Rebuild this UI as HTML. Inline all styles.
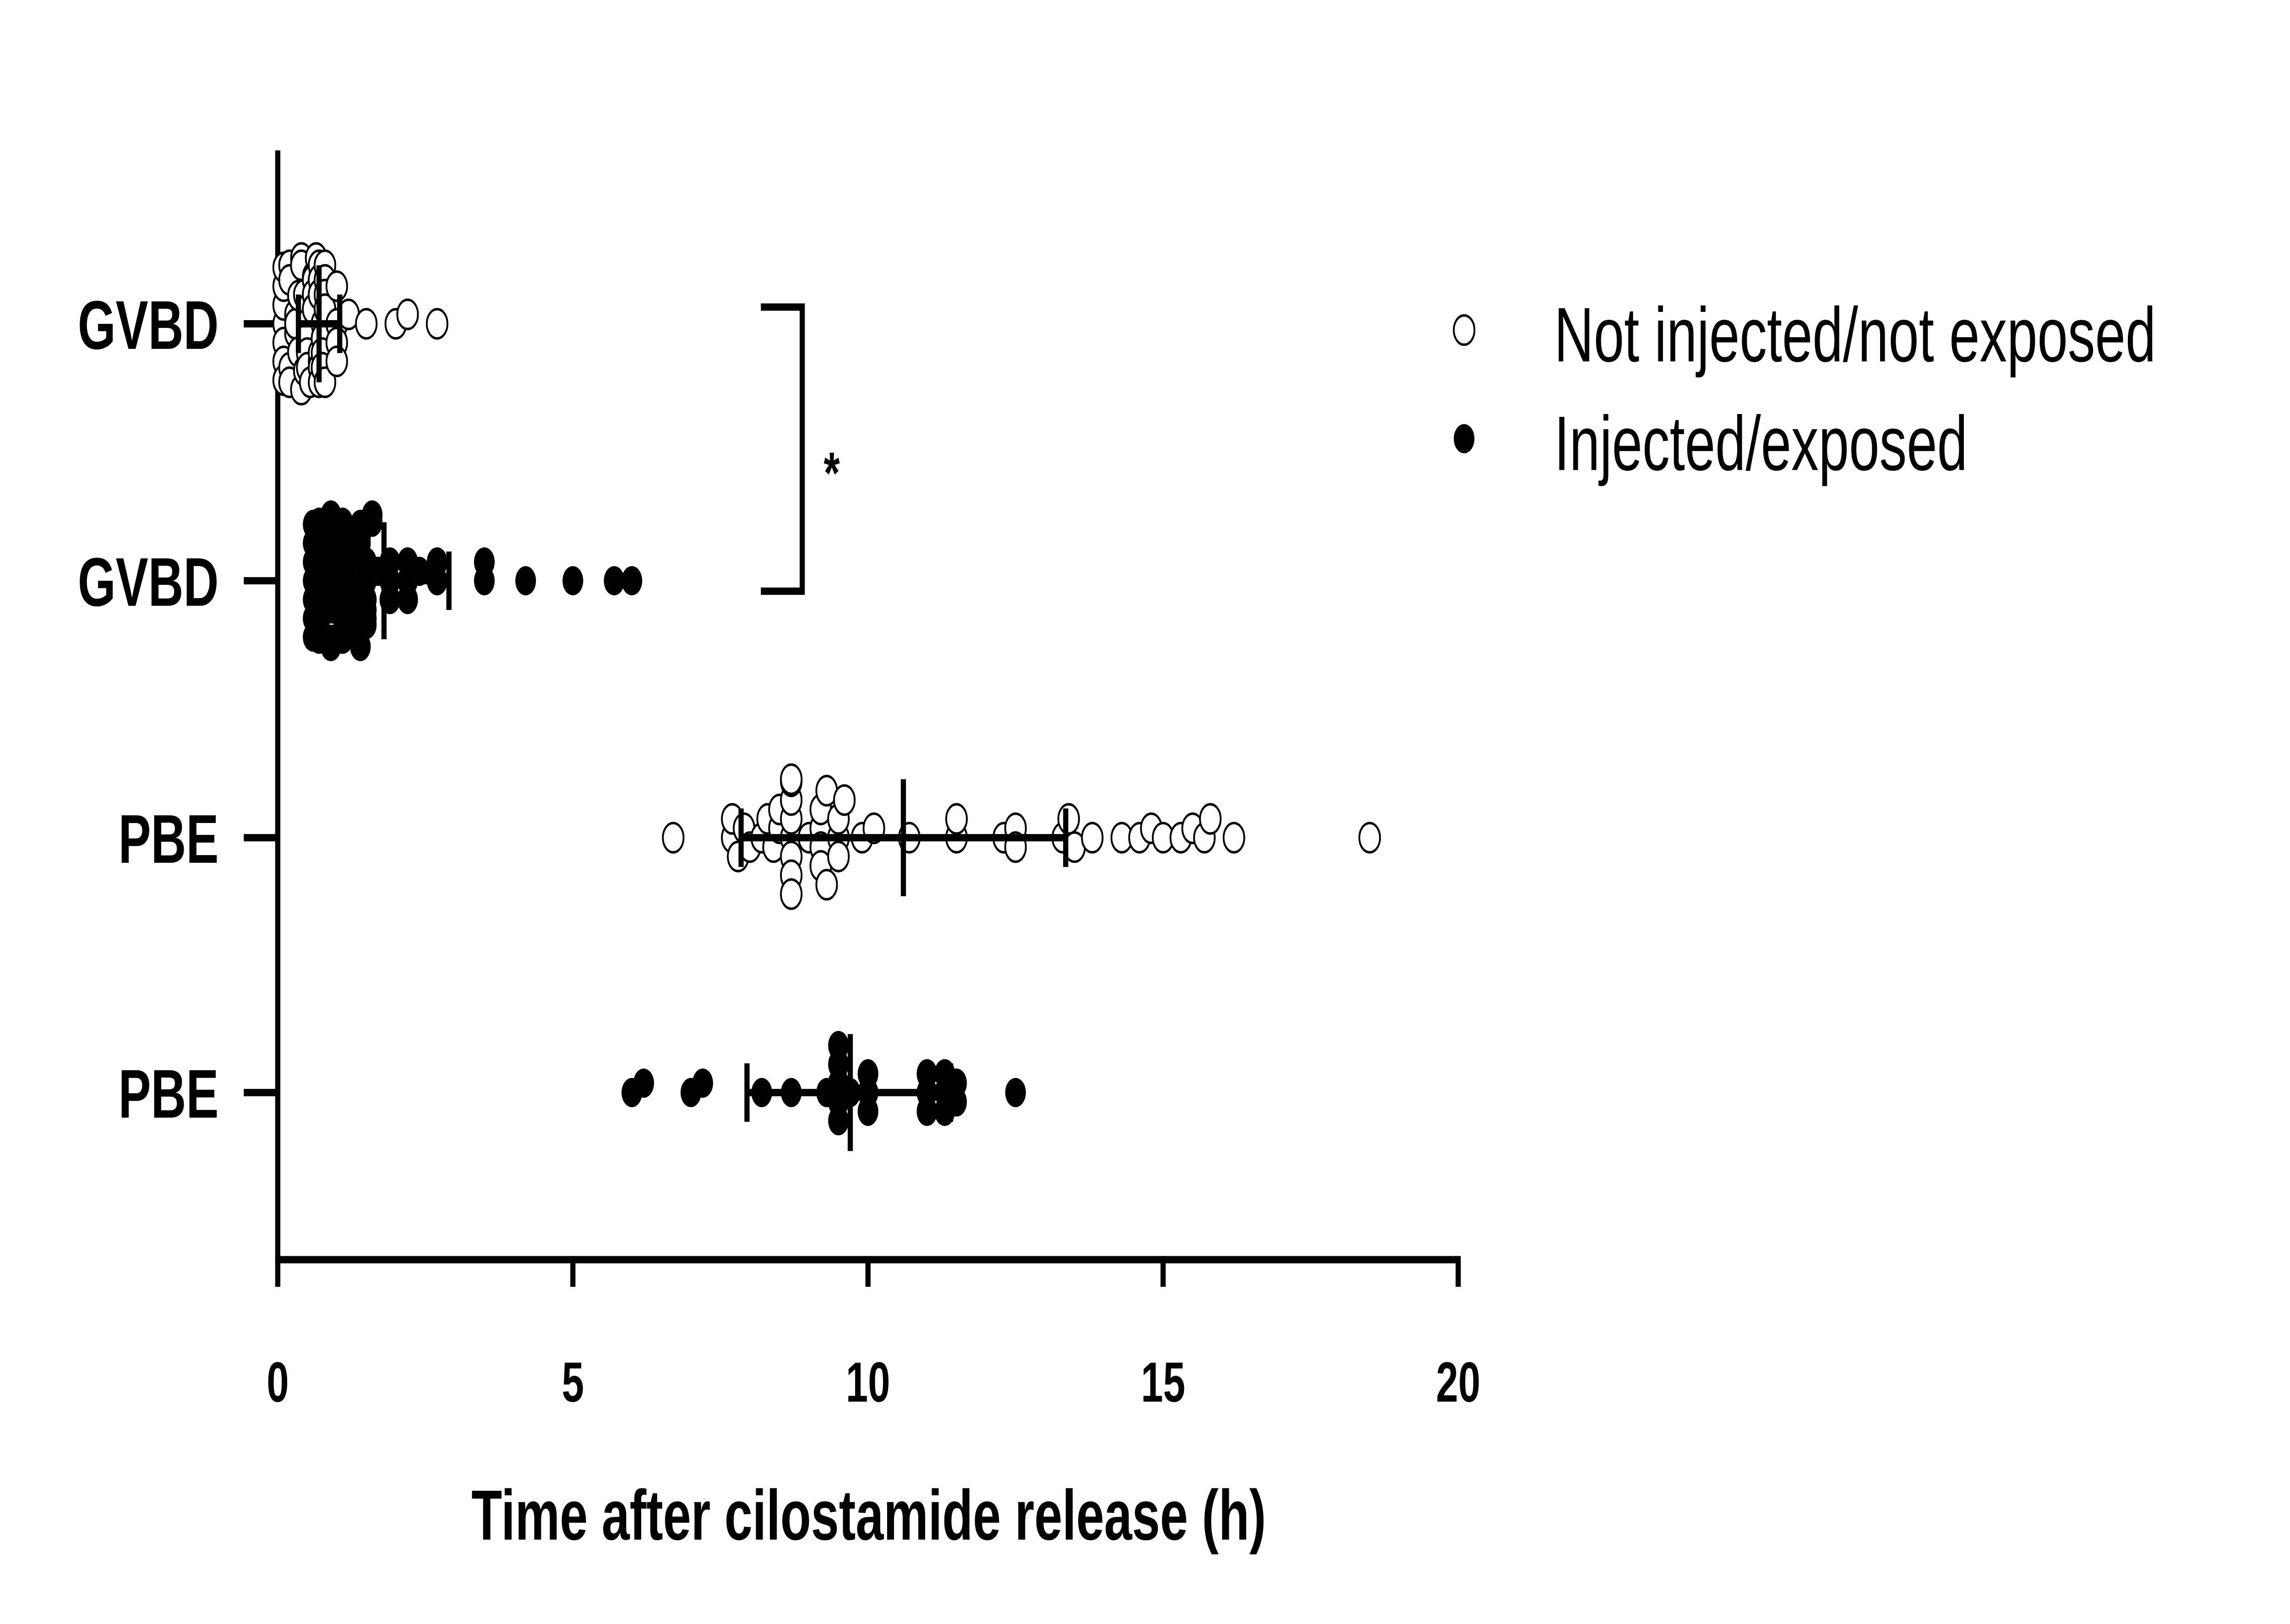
<!DOCTYPE html>
<html><head><meta charset="utf-8"><style>html,body{margin:0;padding:0;background:#fff;overflow:hidden;width:100%;height:100%;}svg{display:block;position:absolute;left:0;top:0;width:100vw;height:100vh;}</style></head>
<body>
<svg id="chart" viewBox="0 0 1550 777.4" preserveAspectRatio="none" xmlns="http://www.w3.org/2000/svg" font-family="Liberation Sans, Arial, sans-serif">
<g id="axes"></g>
<g id="marks"></g>
<g>
<path d="M515 147 H543 V283 H515" fill="none" stroke="#000" stroke-width="3.5"/>
<text x="563" y="236" font-size="28" font-weight="bold" text-anchor="middle">*</text>
</g>
<g>
<circle cx="991" cy="158" r="7" fill="#fff" stroke="#000" stroke-width="1.2"/>
<text x="1052" y="173" font-size="37">Not injected/not exposed</text>
<circle cx="991" cy="210" r="7" fill="#000"/>
<text x="1052" y="225" font-size="37">Injected/exposed</text>
</g>
<text x="588" y="737" font-size="34" font-weight="bold" text-anchor="middle">Time after cilostamide release (h)</text>
</svg>
<script>
const categories = ["GVBD", "GVBD", "PBE", "PBE"];
const groupFilled = [false, true, false, true];
const xTicks = [0, 5, 10, 15, 20];
const gvbdOpen = [0.1,0.1,0.1,0.1,0.1,0.1,0.1,0.2,0.2,0.2,0.2,0.3,0.3,0.3,0.35,0.35,0.4,0.4,0.4,0.45,0.45,0.5,0.5,0.5,0.5,0.5,0.55,0.6,0.6,0.6,0.6,0.65,0.7,0.7,0.7,0.7,0.7,0.7,0.7,0.75,0.75,0.75,0.75,0.75,0.8,0.8,0.8,0.8,0.8,1.0,1.0,1.0,1.0,1.2,1.5,2.0,2.2,2.7];
const gvbdFilled = [0.6,0.6,0.6,0.6,0.6,0.6,0.6,0.7,0.7,0.7,0.8,0.8,0.8,0.9,0.9,0.9,0.9,0.9,0.9,1.0,1.0,1.0,1.0,1.1,1.1,1.1,1.1,1.1,1.2,1.2,1.2,1.3,1.3,1.3,1.4,1.4,1.4,1.4,1.5,1.5,1.5,1.5,1.5,1.5,1.6,1.6,1.7,1.9,1.9,1.9,2.2,2.2,2.2,2.4,2.7,2.7,3.5,3.5,4.2,5.0,5.7,6.0];
const pbeOpen = [6.7,7.7,7.7,7.8,7.9,8.0,8.2,8.3,8.4,8.5,8.5,8.7,8.7,8.7,8.7,8.7,8.7,8.7,8.7,9.0,9.2,9.2,9.2,9.2,9.3,9.3,9.5,9.5,9.5,9.6,9.9,10.1,10.7,11.5,11.5,12.3,12.5,12.5,13.3,13.4,13.5,13.8,14.3,14.6,14.8,15.0,15.3,15.5,15.7,15.8,16.2,18.5];
const pbeFilled = [6.0,6.2,7.0,7.2,8.2,8.7,9.3,9.5,9.5,9.5,9.5,9.5,9.7,10.0,10.0,10.0,11.0,11.0,11.0,11.3,11.3,11.3,11.5,11.5,12.5];
const summaryMean = [0.7, 1.8, 10.6, 9.7];
const summaryLow = [0.35, 0.7, 7.85, 7.95];
const summaryHigh = [1.05, 2.9, 13.35, 11.4];
const groups = [gvbdOpen, gvbdFilled, pbeOpen, pbeFilled];

const NS = "http://www.w3.org/2000/svg";
const X0 = 188, X1 = 987, YTOP = 72, YBOT = 603;
const rowY = [155, 278, 401, 523];
function xScale(v){ return X0 + (v - xTicks[0]) / (xTicks[xTicks.length-1] - xTicks[0]) * (X1 - X0); }
function yScale(i){ return rowY[i]; }
function mk(tag, attrs, parent){ const e = document.createElementNS(NS, tag); for (const k in attrs) e.setAttribute(k, attrs[k]); parent.appendChild(e); return e; }
const axes = document.getElementById('axes');
const marks = document.getElementById('marks');

let yAxis = mk('line', {x1:X0, y1:YTOP, x2:X0, y2:YBOT+1.7, stroke:'#000','stroke-width':3.5}, axes);


let xAxis = mk('line', {x1:X0-1.7, y1:YBOT, x2:X1+1.7, y2:YBOT, stroke:'#000','stroke-width':3.5}, axes);


xTicks.forEach(t => {
  const tk = mk('line', {x1:xScale(t), y1:YBOT, x2:xScale(t), y2:YBOT+13, stroke:'#000','stroke-width':3.5}, axes);
  
  
  const tl = mk('text', {x:xScale(t), y:YBOT+68, 'font-size':27, 'font-weight':'bold', 'text-anchor':'middle'}, axes);
  tl.textContent = t;
  
  
});
categories.forEach((c, i) => {
  const tk = mk('line', {x1:X0-23, y1:yScale(i), x2:X0, y2:yScale(i), stroke:'#000','stroke-width':3.5}, axes);
  
  
  const tl = mk('text', {x:148, y:yScale(i)+12, 'font-size':33, 'font-weight':'bold', 'text-anchor':'end'}, axes);
  tl.textContent = c;
  
  
});

const R = 7, MIN = 8.5, STEP = 4.5, MAXOFF = 34;
groups.forEach((vals, gi) => {
  const placed = [];
  const sorted = vals.slice().sort((a,b)=>a-b);
  sorted.forEach(v => {
    const px = xScale(v);
    let off = 0, found = false;
    for (let k = 0; k < 40; k++) {
      const cand = (k % 2 === 0 ? 1 : -1) * Math.ceil(k/2) * STEP;
      if (Math.abs(cand) > MAXOFF) break;
      const ok = placed.every(p => { const dx = p[0]-px, dy = p[1]-cand; return dx*dx+dy*dy >= MIN*MIN; });
      if (ok) { off = cand; found = true; break; }
    }
    if (!found) off = ((placed.length % 9) - 4) * 7;
    placed.push([px, off]);
    const c = mk('circle', {cx:px, cy:yScale(gi)+off, r:R, fill: groupFilled[gi] ? '#000' : '#fff', stroke:'#000', 'stroke-width': groupFilled[gi] ? 0 : 1.2}, marks);
    
    
  });
});
categories.forEach((c, i) => {
  const y = yScale(i);
  const h = mk('line', {x1:xScale(summaryLow[i]), y1:y, x2:xScale(summaryHigh[i]), y2:y, stroke:'#000','stroke-width':3.5}, marks);
  
  
  [[summaryLow[i],14],[summaryHigh[i],14],[summaryMean[i],28]].forEach(([v,hh]) => {
    const l = mk('line', {x1:xScale(v), y1:y-hh, x2:xScale(v), y2:y+hh, stroke:'#000','stroke-width':3.5}, marks);
    
    
  });
});
</script>
</body></html>
